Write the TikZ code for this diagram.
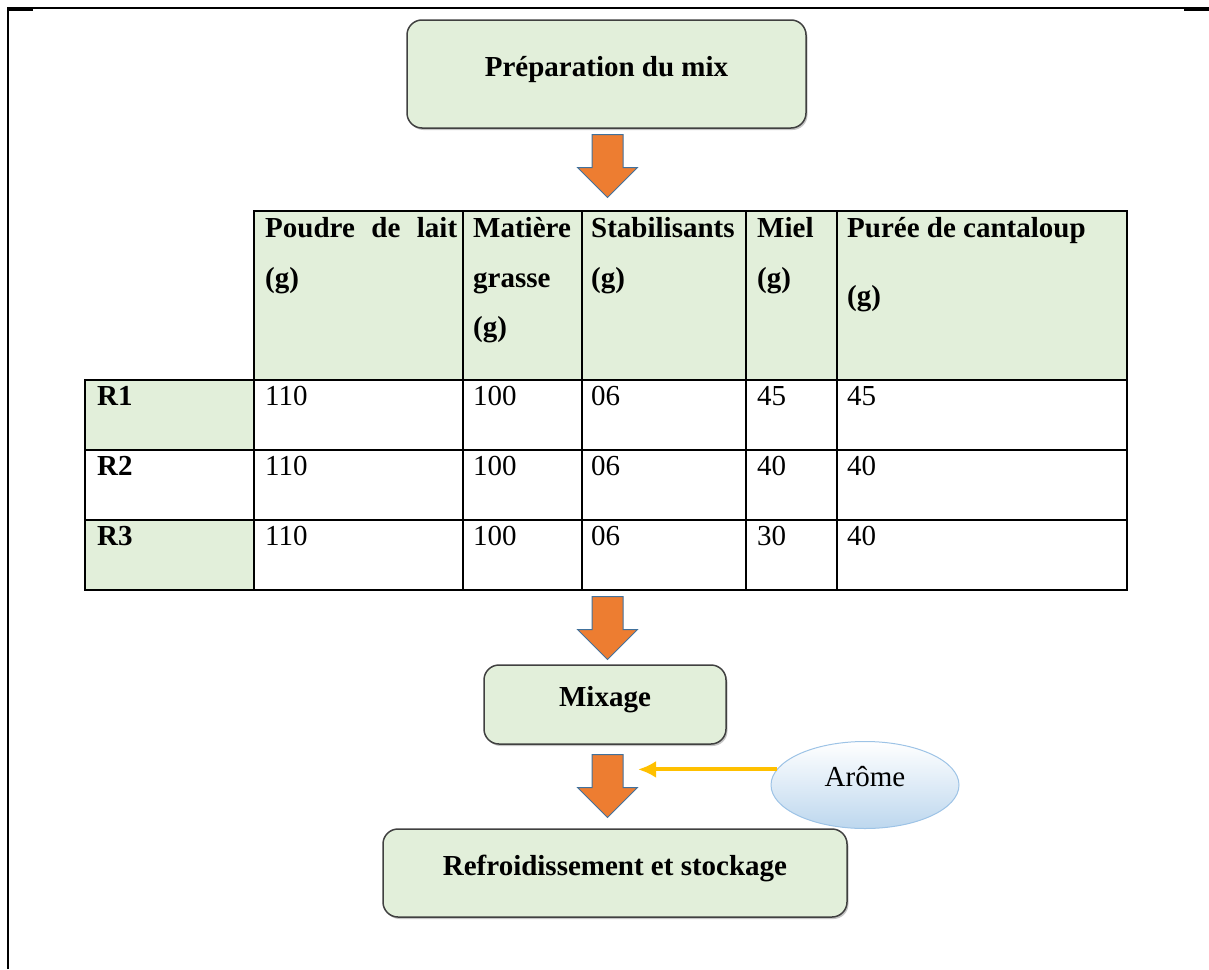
\documentclass[tikz,border=0pt]{standalone}
\usepackage{fontspec}
\setmainfont{Liberation Serif}
\usetikzlibrary{arrows.meta,shapes.arrows,shapes.geometric,shadows}
\definecolor{boxgreen}{RGB}{226,239,218}
\definecolor{boxedge}{RGB}{64,64,64}
\definecolor{arroworange}{RGB}{237,125,49}
\definecolor{arrowedge}{RGB}{65,113,156}
\definecolor{aromeblue}{RGB}{189,215,238}
\definecolor{aromeedge}{RGB}{157,195,230}
\definecolor{aromeyellow}{RGB}{255,192,0}
\newcommand{\mixsize}{\fontsize{29}{35}\selectfont}

\tikzset{
  stepbox/.style={draw=boxedge, fill=boxgreen, line width=1.5pt, rounded corners=15pt,
    inner sep=0pt, font=\mixsize\bfseries, text height=20pt, text depth=16pt,
    drop shadow={shadow xshift=1.5pt, shadow yshift=-2pt, fill=black!45, opacity=0.5}},
  flowarrow/.style={single arrow, shape border rotate=270, draw=arrowedge, fill=arroworange,
    line width=1pt, minimum height=63pt, single arrow head extend=14.5pt,
    inner xsep=15pt, inner ysep=0pt, anchor=tail},
  tabline/.style={line width=1.5pt, line cap=rect},
  hd/.style={anchor=base west, inner sep=0pt, font=\mixsize\bfseries},
  cell/.style={anchor=base west, inner sep=0pt, font=\mixsize},
  aromenode/.style={ellipse, draw=aromeedge, line width=1pt, top color=white, bottom color=aromeblue,
    minimum width=188pt, minimum height=87pt, inner sep=0pt, font=\mixsize,
    text height=20pt, text depth=18pt},
}

\begin{document}
\begin{tikzpicture}[x=1pt, y=-1pt]
\useasboundingbox (0,0) rectangle (1209,969);

% page frame
\draw[line width=1.5pt] (8,969) -- (8,8) -- (1209,8);
\draw[line width=3pt] (8,9) -- (33,9);
\draw[line width=3pt] (1184,9) -- (1209,9);

% first step
\node[stepbox, minimum width=399pt, minimum height=108pt] (prep) at (606.5,74) {Préparation du mix};
\node[flowarrow] (arr1) at (607.5,134) {};

% recipe table
\fill[boxgreen] (254,211) rectangle (1127,380);
\fill[boxgreen] (85,380) rectangle (254,450);
\fill[boxgreen] (85,520) rectangle (254,590);
\draw[tabline] (254,211) -- (1127,211);
\foreach \y in {380,450,520,590}
  \draw[tabline] (85,\y) -- (1127,\y);
\draw[tabline] (85,380) -- (85,590);
\foreach \x in {254,463,582,746,837,1127}
  \draw[tabline] (\x,211) -- (\x,590);

\foreach \x/\y/\t [count=\i] in {265/237/{\makebox[192pt][s]{Poudre de lait}}, 265/287/(g),
    473/237/Matière, 473/287/grasse, 473/336/(g), 591/237/Stabilisants, 591/287/(g),
    757/237/Miel, 757/287/(g), 847/237/Purée de cantaloup, 847/305/(g)}
  \node[hd] (head\i) at (\x,\y) {\t};

\foreach \r/\y/\m/\f/\s/\h/\c in {R1/405/110/100/06/45/45, R2/475/110/100/06/40/40,
    R3/545/110/100/06/30/40} {
  \node[hd] (\r) at (97,\y) {\r};
  \node[cell] (\r-lait) at (265,\y) {\m};
  \node[cell] (\r-mg) at (473,\y) {\f};
  \node[cell] (\r-stab) at (591,\y) {\s};
  \node[cell] (\r-miel) at (757,\y) {\h};
  \node[cell] (\r-pure) at (847,\y) {\c};
}

% mixing, flavour and cooling
\node[flowarrow] (arr2) at (607.5,596) {};
\node[stepbox, minimum width=242pt, minimum height=79pt] (mix) at (605,704.5) {Mixage};
\node[flowarrow] (arr3) at (607.5,754) {};
\node[stepbox, minimum width=464pt, minimum height=88pt] (cool) at (615,873) {Refroidissement et stockage};

\node[aromenode] (arome) at (865,785) {Arôme};
\coordinate (aromein) at (638,770);
\draw[line width=4pt, aromeyellow, -{Latex[length=18pt,width=17pt]}] (arome.170) -- (arome.170 -| aromein);
\end{tikzpicture}
\end{document}
